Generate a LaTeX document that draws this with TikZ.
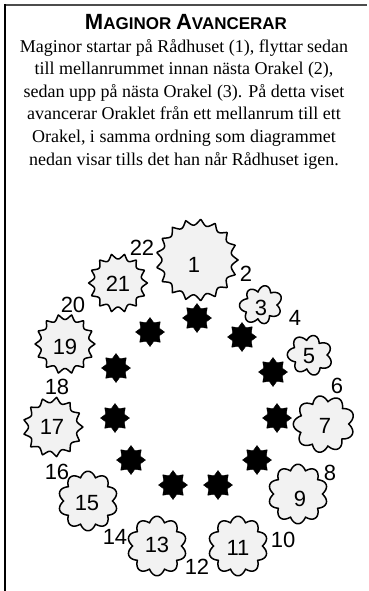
\documentclass[tikz,border=0pt]{standalone}
\usepackage{fontspec}
\setmainfont{Liberation Serif}
\newfontfamily\lsans{Liberation Sans}
\usetikzlibrary{shapes.geometric}
% generic burst: cx, cy, R, A, n, mode(+1 spiky / -1 cloudy), B, phase
\newcommand\burstshape[8]{%
  \draw[shapeline] plot[variable=\t, domain=0:360, samples=361]
   ({#1+(#3+(#6)*#4*(1-2*abs(sin(#5*\t/2)))+#7*cos(2*\t+#8))*cos(\t)},
    {#2+(#3+(#6)*#4*(1-2*abs(sin(#5*\t/2)))+#7*cos(2*\t+#8))*sin(\t)}) -- cycle;}
\begin{document}
\begin{tikzpicture}[x=1pt,y=-1pt,
  shapeline/.style={draw=black, line width=1.5pt, fill=black!5, line join=round},
  num/.style={font=\lsans\fontsize{22}{22}\selectfont, inner sep=0pt},
  blackstar/.style={star, star points=8, star point ratio=1.45, fill=black, draw=black, minimum size=29pt, inner sep=0pt},
  framegray/.style={draw=black!70, line width=2.4pt},
  frameblack/.style={draw=black, line width=2pt}]
\useasboundingbox (0,0) rectangle (369,591);
% frame
\coordinate (tl) at (4,5);
\coordinate (tr) at (367,5);
\coordinate (lt) at (5,4);
\coordinate (lb) at (5,591);
\draw[framegray] (tl) -- (tr);
\draw[frameblack] (lt) -- (lb);
% texts
\node[font=\lsans\bfseries, inner sep=0pt] (title) at (186,22)
  {\fontsize{22}{22}\selectfont M\fontsize{17}{17}\selectfont AGINOR \fontsize{22}{22}\selectfont A\fontsize{17}{17}\selectfont VANCERAR};
\node[align=center, font=\fontsize{18}{22.6}\selectfont, inner sep=0pt] (body) at (184,104)
  {Maginor startar på Rådhuset (1), flyttar sedan\\
   till mellanrummet innan nästa Orakel (2),\\
   sedan upp på nästa Orakel (3). På detta viset\\
   avancerar Oraklet från ett mellanrum till ett\\
   Orakel, i samma ordning som diagrammet\\
   nedan visar tills det han når Rådhuset igen.};
% oracle shapes
\burstshape{197}{260}{38}{3}{17}{1}{0}{0}
\burstshape{261}{305}{17.5}{2.8}{7}{-1}{1.5}{40}
\burstshape{310}{355}{18.5}{2.8}{7}{-1}{1.5}{-30}
\burstshape{324}{424}{26.5}{3}{9}{-1}{1.2}{20}
\burstshape{298}{494}{27}{2.7}{10}{-1}{0}{0}
\burstshape{238}{546}{27}{2.7}{10}{-1}{0}{0}
\burstshape{157}{546}{27}{2.7}{10}{-1}{0}{0}
\burstshape{88}{501}{27}{2.7}{10}{-1}{0}{0}
\burstshape{53}{427}{27.2}{2.7}{13}{1}{0}{0}
\burstshape{65}{344}{27.2}{2.7}{14}{1}{0}{0}
\burstshape{118}{283}{26.7}{2.7}{14}{1}{0}{0}
% labels inside
\node[num] (n1) at (194,265) {1};
\node[num] (n3) at (261,308) {3};
\node[num] (n5) at (309,356) {5};
\node[num] (n7) at (325,426) {7};
\node[num] (n9) at (300,499) {9};
\node[num] (n11) at (238,548) {11};
\node[num] (n13) at (157,545) {13};
\node[num] (n15) at (87,503) {15};
\node[num] (n17) at (52,427) {17};
\node[num] (n19) at (65,347) {19};
\node[num] (n21) at (118,284) {21};
% labels outside
\node[num] (n2) at (246,274) {2};
\node[num] (n4) at (295,318) {4};
\node[num] (n6) at (337,386) {6};
\node[num] (n8) at (330,473) {8};
\node[num] (n10) at (283,540) {10};
\node[num] (n12) at (197,567) {12};
\node[num] (n14) at (115,537) {14};
\node[num] (n16) at (57,472) {16};
\node[num] (n18) at (57,387) {18};
\node[num] (n20) at (73,305) {20};
\node[num] (n22) at (142,248) {22};
% spaces (black stars)
\node[blackstar] (s2) at (197,318) {};
\node[blackstar] (s4) at (242,337) {};
\node[blackstar] (s6) at (273,372) {};
\node[blackstar] (s8) at (277,418) {};
\node[blackstar] (s10) at (257,460) {};
\node[blackstar] (s12) at (218,485) {};
\node[blackstar] (s14) at (173,485) {};
\node[blackstar] (s16) at (131,460) {};
\node[blackstar] (s18) at (115,418) {};
\node[blackstar] (s20) at (116,368) {};
\node[blackstar] (s22) at (150,332) {};
\end{tikzpicture}
\end{document}
